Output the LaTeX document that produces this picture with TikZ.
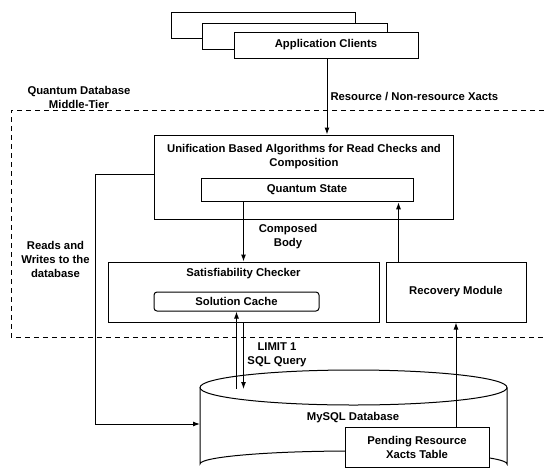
\documentclass[tikz,border=0pt]{standalone}
\usepackage{fontspec}
\setmainfont{Liberation Sans}
\usetikzlibrary{arrows.meta}

\tikzset{
  box/.style={draw, fill=white, line width=1pt, inner sep=0pt},
  txt/.style={font=\fontsize{11.3}{14}\selectfont\bfseries, align=center, inner sep=0pt},
  arr/.style={line width=1pt, -{Latex[length=7pt,width=5pt]}},
}

\begin{document}
\begin{tikzpicture}[x=1pt,y=-1pt]
\useasboundingbox (0,0) rectangle (544,475);
%\draw[thin,gray!40] (0,0) grid[step=50] (544,475);

 % middle tier
 \draw[line width=1pt, dash pattern=on 5pt off 4pt] (544,110)--(11,110)--(11,337)--(544,337);
 \node[txt] (tier) at (79,97) {Quantum Database\\Middle-Tier};

 % clients
 \node[box, minimum width=184pt, minimum height=26pt] (clientsA) at (263,25) {};
 \node[box, minimum width=185pt, minimum height=26pt] (clientsB) at (294.5,36) {};
 \node[box, txt, minimum width=184pt, minimum height=26pt] (clients) at (326,45) {Application Clients};

 % algorithms
 \node[box, minimum width=299pt, minimum height=84pt] (unif) at (303.5,177) {};
 \node[txt] (uniftext) at (304,156.5) {Unification Based Algorithms for Read Checks and\\Composition};
 \node[box, txt, minimum width=212pt, minimum height=23.5pt] (qstate) at (307,190) {Quantum State};

 \node[box, minimum width=271pt, minimum height=60pt] (sat) at (243.5,292) {};
 \node[txt] (sattext) at (243.5,274) {Satisfiability Checker};
 \node[box, txt, rounded corners=3pt, minimum width=165pt, minimum height=19pt] (cache) at (236.5,301.5) {Solution Cache};
 \node[box, txt, minimum width=140pt, minimum height=60pt] (recov) at (456,292) {Recovery Module};

 % database
 \draw[line width=1pt] (353.5,387.5) ellipse [x radius=153.5, y radius=17.5];
 \draw[line width=1pt] (200,387.5)--(200,464) arc[start angle=180, end angle=360, x radius=153.5, y radius=13]--(507,387.5);
 \coordinate (dbtop) at (353.5,389);
 \coordinate (dbwest) at (200,424);
 \node[txt] (db) at (353,418) {MySQL Database};
 \node[box, txt, minimum width=144pt, minimum height=40pt] (pending) at (417,447) {Pending Resource\\Xacts Table};

 % flows
 \draw[arr] (clients.south -| 327,0)--(unif.north -| 327,0) node[txt, midway, right=3pt, anchor=west] (xacts) {Resource / Non-resource Xacts};
 \draw[arr] (qstate.south -| sat.north)--(sat.north);
 \node[txt] (composed) at (288,236.5) {Composed\\Body};
 \draw[arr] (recov.north west) ++(13,0) coordinate (rup)--(rup |- qstate.south);
 \draw[arr] (unif.west |- 0,174)--(95,174) |- (dbwest);
 \node[txt] (rw) at (55.5,259) {Reads and\\Writes to the\\database};
 \draw[arr] (cache.south |- dbtop)--(cache.south);
 \draw[arr] (sat.south)--(sat.south |- dbtop);
 \node[txt] (limit) at (277,355) {LIMIT 1\\SQL Query};
 \draw[arr] (recov.south |- pending.north)--(recov.south);

%  \draw[red] (0,0) rectangle (544,475);
\end{tikzpicture}
\end{document}
